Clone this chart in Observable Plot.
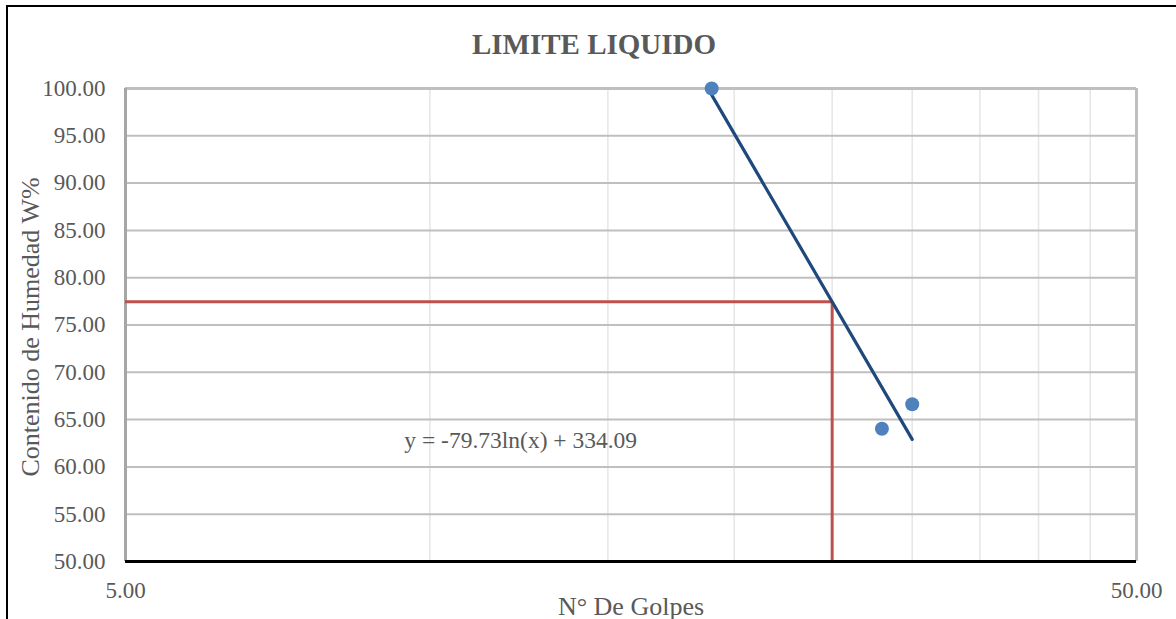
<!DOCTYPE html>
<html>
<head>
<meta charset="utf-8">
<script src="https://cdn.jsdelivr.net/npm/d3@7"></script>
<script src="https://cdn.jsdelivr.net/npm/@observablehq/plot@0.6"></script>
<style>
  html, body { margin: 0; padding: 0; background: #fff; }
  #wrap { position: relative; width: 1176px; height: 619px; overflow: hidden; }
  #wrap svg, #wrap svg text { font-family: "Liberation Serif", "Times New Roman", serif !important; }
  #border { position: absolute; left: 6px; top: 5px; width: 1200px; height: 700px; border-left: 2.5px solid #000; border-top: 2.5px solid #000; box-sizing: border-box; pointer-events: none; }
</style>
</head>
<body>
<div id="wrap"><div id="border"></div></div>
<script>
// ---- data ----
const title = "LIMITE LIQUIDO";
const xLabel = "N° De Golpes";
const yLabel = "Contenido de Humedad W%";
const golpes = [19, 28, 30];           // N° de golpes
const humedad = [100.00, 64.04, 66.63]; // contenido de humedad %
const trendA = -79.73;                  // y = a ln(x) + b
const trendB = 334.09;
const equationLabel = "y = -79.73ln(x) + 334.09";
const equationAt = {x: 12.3, y: 62.8};
const limitGolpes = 25;
const xTicks = [5, 50];
const xGrid = [10, 15, 20, 25, 30, 35, 40, 45];
const yTicks = [50, 55, 60, 65, 70, 75, 80, 85, 90, 95, 100];

const points = golpes.map((g, i) => ({x: g, y: humedad[i]}));
const xExt = d3.extent(golpes);
const trend = xExt.map(x => ({x, y: trendA * Math.log(x) + trendB}));
const ll = trendA * Math.log(limitGolpes) + trendB;

const font = "Liberation Serif";
const grey = "#595959";

const chart = Plot.plot({
  width: 1176,
  height: 619,
  marginLeft: 125,
  marginRight: 40,
  marginTop: 88,
  marginBottom: 58,
  style: {fontFamily: font, fontSize: "22px", color: grey, background: "transparent", overflow: "visible"},
  x: {type: "log", domain: [5, 50]},
  y: {domain: [50, 100]},
  marks: [
    Plot.ruleX(xGrid, {x: d => d, y1: 50, y2: 100, stroke: "#e6e6e6", strokeWidth: 1.5}),
    Plot.ruleY(yTicks.filter(d => d > 50 && d < 100), {y: d => d, stroke: "#bfbfbf", strokeWidth: 2}),
    // plot frame
    Plot.ruleY([100], {stroke: "#bfbfbf", strokeWidth: 3}),
    Plot.ruleX([50], {stroke: "#bfbfbf", strokeWidth: 3}),
    Plot.ruleX([5], {stroke: "#a6a6a6", strokeWidth: 3}),
    // liquid limit guide lines
    Plot.ruleY([ll], {y: d => d, x1: 5, x2: limitGolpes, stroke: "#c0504d", strokeWidth: 3}),
    Plot.ruleX([limitGolpes], {x: d => d, y1: 50, y2: ll, stroke: "#c0504d", strokeWidth: 3}),
    Plot.ruleY([50], {stroke: "#000", strokeWidth: 3}),
    // trend line
    Plot.line(trend, {x: "x", y: "y", stroke: "#1f497d", strokeWidth: 3.2, strokeLinecap: "round"}),
    Plot.dot(points, {x: "x", y: "y", r: 7, fill: "#4f81bd", stroke: "none"}),
    Plot.text([equationLabel], {x: equationAt.x, y: equationAt.y, text: d => d, fontFamily: font, fontSize: 23.5, fill: grey}),
    Plot.axisY(yTicks, {tickSize: 0, tickPadding: 20, tickFormat: d => d.toFixed(2), label: null, fontFamily: font, fontSize: 23, fill: grey}),
    Plot.axisX(xTicks, {tickSize: 0, tickPadding: 20, tickFormat: d => d.toFixed(2), label: null, fontFamily: font, fontSize: 23, fill: grey}),
    Plot.text([title], {frameAnchor: "top", dx: -37, dy: -55, text: d => d, fontFamily: font, fontSize: 29, fontWeight: "bold", fill: grey}),
    Plot.text([xLabel], {frameAnchor: "bottom", dy: 53, text: d => d, fontFamily: font, fontSize: 26, fill: grey}),
    Plot.text([yLabel], {frameAnchor: "left", textAnchor: "middle", dx: -95, dy: 2, rotate: -90, text: d => d, fontFamily: font, fontSize: 26, fill: grey})
  ]
});
document.getElementById("wrap").prepend(chart);
</script>
</body>
</html>
